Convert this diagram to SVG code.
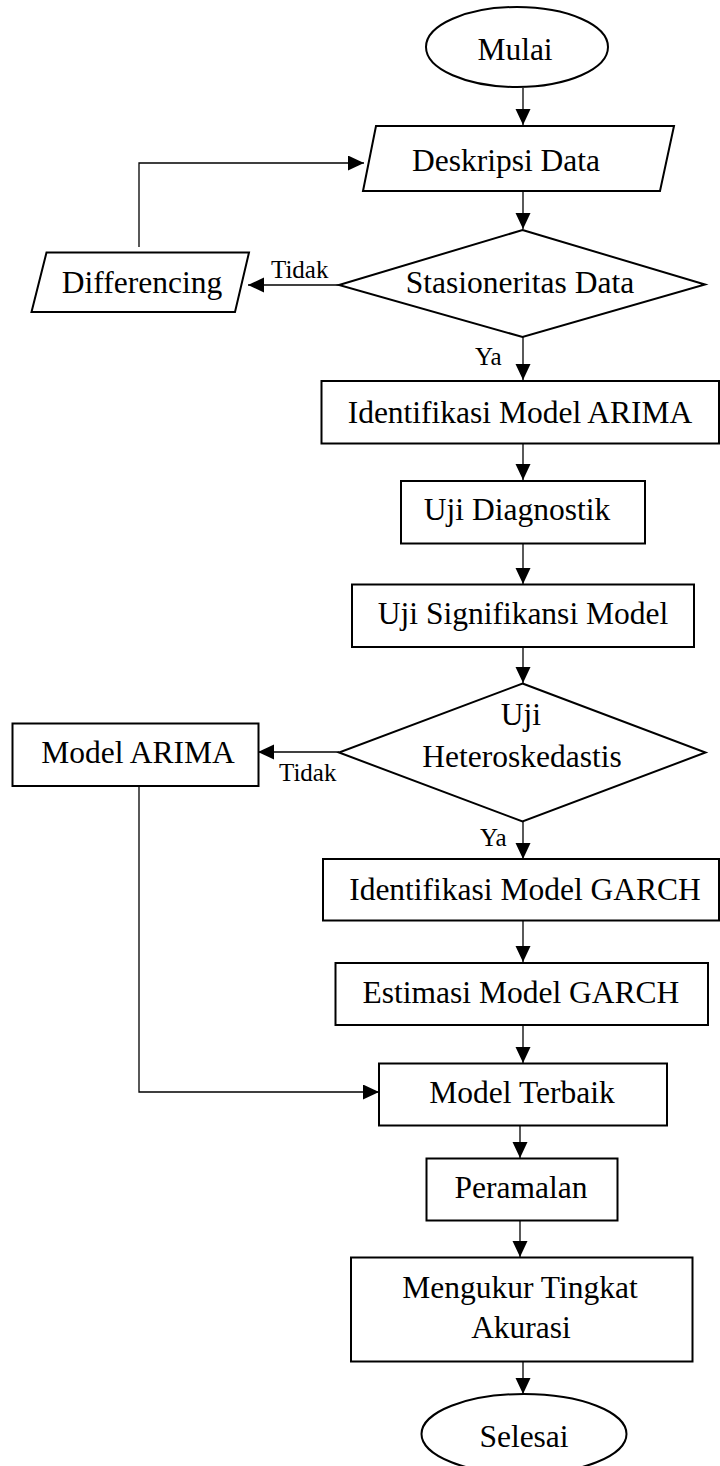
<svg xmlns="http://www.w3.org/2000/svg" width="720" height="1466" viewBox="0 0 720 1466">
<style>
.shape{fill:#fff;stroke:#000;stroke-width:2}
.conn{fill:none;stroke:#000;stroke-width:1.3}
.t{font-family:"Liberation Serif","Times New Roman",serif;font-size:31.5px;fill:#000;text-anchor:middle}
.lbl{font-family:"Liberation Serif","Times New Roman",serif;font-size:25px;fill:#000}
</style>
<defs>
<marker id="ah" markerUnits="userSpaceOnUse" markerWidth="17" markerHeight="16" refX="16" refY="7.5" orient="auto">
<path d="M0,0 L16,7.5 L0,15 z" fill="#000"/>
</marker>
</defs>
<rect width="720" height="1466" fill="#fff"/>
<g id="connectors">
<line class="conn" x1="523" y1="88" x2="523" y2="125" marker-end="url(#ah)"/>
<line class="conn" x1="523" y1="192" x2="523" y2="229" marker-end="url(#ah)"/>
<line class="conn" x1="339" y1="285" x2="248" y2="285" marker-end="url(#ah)"/>
<polyline class="conn" points="139,247 139,163 364,163" marker-end="url(#ah)"/>
<line class="conn" x1="523" y1="337" x2="523" y2="380" marker-end="url(#ah)"/>
<line class="conn" x1="523" y1="444" x2="523" y2="480" marker-end="url(#ah)"/>
<line class="conn" x1="523" y1="544" x2="523" y2="584" marker-end="url(#ah)"/>
<line class="conn" x1="523" y1="647" x2="523" y2="683" marker-end="url(#ah)"/>
<line class="conn" x1="339" y1="752" x2="258" y2="752" marker-end="url(#ah)"/>
<line class="conn" x1="523" y1="822" x2="523" y2="859" marker-end="url(#ah)"/>
<line class="conn" x1="523" y1="921" x2="523" y2="962" marker-end="url(#ah)"/>
<line class="conn" x1="523" y1="1026" x2="523" y2="1063" marker-end="url(#ah)"/>
<polyline class="conn" points="139,786 139,1092 379,1092" marker-end="url(#ah)"/>
<line class="conn" x1="520" y1="1126" x2="520" y2="1158" marker-end="url(#ah)"/>
<line class="conn" x1="520" y1="1221" x2="520" y2="1257" marker-end="url(#ah)"/>
<line class="conn" x1="523" y1="1362" x2="523" y2="1394" marker-end="url(#ah)"/>
<text class="lbl" x="271" y="277.5">Tidak</text>
<text class="lbl" x="475" y="365">Ya</text>
<text class="lbl" x="279" y="781">Tidak</text>
<text class="lbl" x="480" y="846">Ya</text>
</g>
<g id="mulai">
<ellipse class="shape" cx="517" cy="47" rx="91" ry="40"/>
<text class="t" x="515" y="60">Mulai</text>
</g>
<g id="deskripsi">
<polygon class="shape" points="376,126 674,126 660,191 363,191"/>
<text class="t" x="506" y="171">Deskripsi Data</text>
</g>
<g id="stasioneritas">
<polygon class="shape" points="522.5,230 705,284.5 522.5,337 339,285"/>
<text class="t" x="520" y="293">Stasioneritas Data</text>
</g>
<g id="differencing">
<polygon class="shape" points="46.5,252.5 249,252.5 235,312 31.5,312"/>
<text class="t" x="142" y="293">Differencing</text>
</g>
<g id="identifikasi-arima">
<rect class="shape" x="321.5" y="381" width="397.5" height="62.5"/>
<text class="t" x="520" y="423">Identifikasi Model ARIMA</text>
</g>
<g id="uji-diagnostik">
<rect class="shape" x="401" y="481" width="244" height="62.5"/>
<text class="t" x="517" y="520">Uji Diagnostik</text>
</g>
<g id="uji-signifikansi">
<rect class="shape" x="352" y="584.5" width="342" height="62.5"/>
<text class="t" x="523" y="624">Uji Signifikansi Model</text>
</g>
<g id="uji-heteroskedastis">
<polygon class="shape" points="522.5,683.5 705.5,752.5 522.5,821.5 339,752.5"/>
<text class="t" x="521" y="725">Uji</text>
<text class="t" x="522" y="767">Heteroskedastis</text>
</g>
<g id="model-arima">
<rect class="shape" x="12.5" y="723.5" width="246" height="62.5"/>
<text class="t" x="138" y="763">Model ARIMA</text>
</g>
<g id="identifikasi-garch">
<rect class="shape" x="323" y="859" width="396" height="61.5"/>
<text class="t" x="525" y="900">Identifikasi Model GARCH</text>
</g>
<g id="estimasi-garch">
<rect class="shape" x="335.5" y="963" width="372.5" height="62"/>
<text class="t" x="521" y="1003">Estimasi Model GARCH</text>
</g>
<g id="model-terbaik">
<rect class="shape" x="379" y="1063.5" width="288" height="62"/>
<text class="t" x="522" y="1103">Model Terbaik</text>
</g>
<g id="peramalan">
<rect class="shape" x="426.5" y="1158.5" width="191" height="62"/>
<text class="t" x="521" y="1198">Peramalan</text>
</g>
<g id="akurasi">
<rect class="shape" x="351" y="1257.5" width="341.5" height="104"/>
<text class="t" x="520" y="1298">Mengukur Tingkat</text>
<text class="t" x="521" y="1338">Akurasi</text>
</g>
<g id="selesai">
<ellipse class="shape" cx="524" cy="1434" rx="102.5" ry="40"/>
<text class="t" x="524" y="1447">Selesai</text>
</g>
</svg>
